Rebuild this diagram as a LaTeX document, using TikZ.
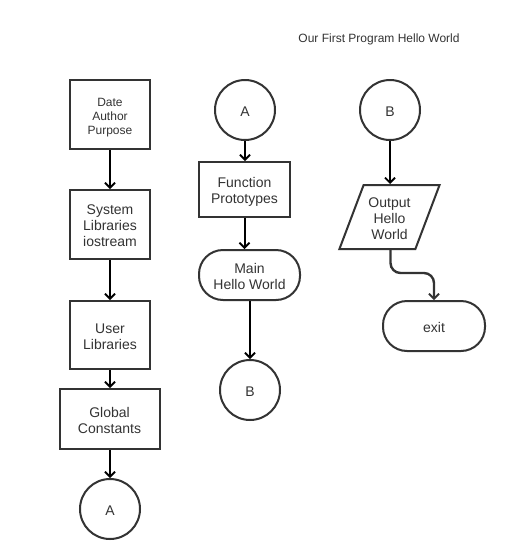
\documentclass[tikz,border=0pt]{standalone}
\usepackage{fontspec}
\setmainfont{Liberation Sans}
\usetikzlibrary{arrows.meta,shapes.geometric,calc}
\definecolor{ink}{HTML}{333333}
\newcommand\lowtxt[1]{\raisebox{0pt}[\dimexpr\height+6pt][\depth]{\begin{tabular}{@{}c@{}}#1\end{tabular}}}
\begin{document}
\begin{tikzpicture}[x=1pt,y=-1pt,
  every node/.style={text=ink,font=\fontsize{14}{16}\selectfont,inner sep=0pt},
  procbox/.style={draw=ink,line width=2pt,rectangle},
  termbox/.style={draw=ink,line width=2pt,rectangle,rounded corners=24pt},
  conn/.style={draw=ink,line width=2pt,minimum size=60pt,circle},
  iobox/.style={draw=ink,line width=2pt,trapezium,trapezium left angle=70,trapezium right angle=110,trapezium stretches=true,minimum width=101pt,minimum height=64pt},
  flow/.style={line width=2pt,black,-{Straight Barb[length=5pt,width=10pt,line width=1.8pt]}}
]
\useasboundingbox (0,0) rectangle (510,560);
\fill[white] (0,0) rectangle (510,560);

\node (title) at (379,37) {\fontsize{12}{14}\selectfont\lowtxt{Our First Program Hello World}};

% column 1
\node[procbox,minimum width=80pt,minimum height=69pt,font=\fontsize{12}{14}\selectfont] (dap) at (110,114.5) {\lowtxt{Date\\Author\\Purpose}};
\node[procbox,minimum width=80pt,minimum height=69pt] (sys) at (110,224.5) {\lowtxt{System\\Libraries\\iostream}};
\node[procbox,minimum width=80pt,minimum height=68pt] (usr) at (110,335) {\lowtxt{User\\Libraries}};
\node[procbox,minimum width=100pt,minimum height=60pt] (glob) at (109.5,419) {\lowtxt{Global\\Constants}};
\node[conn] (a1) at (110,509) {\lowtxt{A}};

% column 2
\node[conn] (a2) at (245,110) {\lowtxt{A}};
\node[procbox,minimum width=91pt,minimum height=55pt] (func) at (244.5,189.5) {\lowtxt{Function\\Prototypes}};
\node[termbox,minimum width=101pt,minimum height=50pt] (main) at (249.5,275) {\lowtxt{Main\\Hello World}};
\node[conn] (b1) at (250,390) {\lowtxt{B}};

% column 3
\node[conn] (b2) at (390,110) {\lowtxt{B}};
\node[iobox] (out) at (389.5,217) {\lowtxt{Output\\Hello\\World}};
\node[termbox,minimum width=102pt,minimum height=50pt] (exit) at (434,326) {\lowtxt{exit}};

% connectors
\draw[flow] (dap) -- (sys);
\draw[flow] (sys) -- (usr);
\draw[flow] (usr) -- (usr.south |- glob.north);
\draw[flow] (glob.south -| a1.north) -- (a1);
\draw[flow] (a2) -- (a2.south |- func.north);
\draw[flow] (func) -- (func.south |- main.north);
\draw[flow] (main.south -| b1.north) -- (b1);
\draw[flow] (b2) -- (b2.south |- out.north);
\draw[flow,ink,line width=2.4pt,rounded corners=10pt] ([xshift=1pt]out.south) -- ++(0,23) -| (exit.north);
\end{tikzpicture}
\end{document}
